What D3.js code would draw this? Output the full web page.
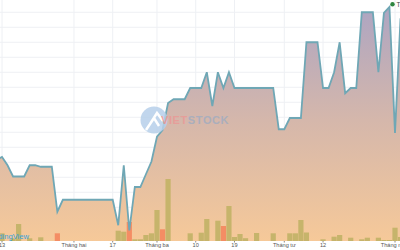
<!DOCTYPE html>
<html>
<head>
<meta charset="utf-8">
<script src="https://cdn.jsdelivr.net/npm/d3@7"></script>
<style>
  body { margin: 0; background: #fff; }
  svg { display: block; font-family: "Liberation Sans", Arial, sans-serif; }
</style>
</head>
<body>
<svg id="vis" width="400" height="250"></svg>
<script>
// daily closes (thousand VND), one per trading session, starting one session before "13"
const prices = [
  10.63, 10.67, 10.56, 10.41, 10.41, 10.41, 10.56, 10.56, 10.54, 10.54, 10.54, 9.94,
  10.10, 10.10, 10.10, 10.10, 10.10, 10.10, 10.10, 10.10, 10.10, 10.10,
  9.76, 10.56, 9.69, 10.27, 10.27, 10.44, 10.61, 10.94, 11.03, 11.39, 11.44, 11.44,
  11.44, 11.59, 11.59, 11.59, 11.80, 11.35, 11.80, 11.59, 11.80,
  11.59, 11.59, 11.59, 11.59, 11.59, 11.59, 11.59, 11.59,
  11.04, 11.04, 11.19, 11.19, 11.19, 12.20, 12.20, 12.20, 11.59, 11.59, 11.80, 12.20,
  11.52, 11.59, 11.59, 12.60, 12.60, 12.60, 11.80, 12.59, 12.67, 10.99, 12.52
];

// matched volume per session (shares)
const volumes = [
  40000, 77000, 0, 27000, 170000, 0, 27000, 0, 37000, 0, 0, 77000,
  0, 0, 0, 0, 0, 0, 0, 0, 0, 0,
  103000, 93000, 190000, 17000, 17000, 60000, 77000, 310000, 117000, 620000, 0, 0,
  0, 77000, 0, 83000, 220000, 0, 203000, 150000, 350000,
  40000, 70000, 28000, 0, 80000, 0, 0, 77000,
  0, 0, 77000, 77000, 210000, 85000, 0, 0, 17000, 0, 43000, 60000,
  0, 33000, 0, 17000, 33000, 0, 33000, 10000, 10000, 133000, 40000
];

// sessions whose volume bar is red
const downSessions = [11, 24, 30, 41];

const tickIndex = [1, 14, 21, 29, 36, 43, 52, 59, 72];
const tickLabels = ["13", "Tháng hai", "17", "Tháng ba", "10", "19", "Tháng tư", "12", "Tháng năm"];

function drawChart() {
  const width = 400;
  const baseY = 241;

  const svg = d3.select("svg#vis");

  const x = d3.scaleLinear().domain([1, 72]).range([2, 395]);
  const y = d3.scaleLinear().domain([9.55, 9.55 + baseY / 75]).range([baseY, 0]);
  const vol = d3.scaleLinear().domain([0, 1000000]).range([0, 100]);

  // gradient for the area
  const defs = svg.append("defs");
  const grad = defs.append("linearGradient")
    .attr("id", "areaFill")
    .attr("gradientUnits", "userSpaceOnUse")
    .attr("x1", 0).attr("y1", 0)
    .attr("x2", 0).attr("y2", baseY);
  grad.append("stop").attr("offset", "0%").attr("stop-color", "#aba4c3");
  grad.append("stop").attr("offset", "50%").attr("stop-color", "#d5b7ab");
  grad.append("stop").attr("offset", "100%").attr("stop-color", "#f6c999");

  // grid
  const grid = svg.append("g").attr("id", "grid");
  grid.selectAll("line.h")
    .data(d3.range(9.6, 12.65, 0.2))
    .enter().append("line")
    .attr("class", "h")
    .attr("x1", 0).attr("x2", width)
    .attr("y1", d => y(d)).attr("y2", d => y(d))
    .attr("stroke", "#eef0f4")
    .attr("stroke-width", 1);
  grid.selectAll("line.v")
    .data(tickIndex)
    .enter().append("line")
    .attr("class", "v")
    .attr("x1", d => x(d)).attr("x2", d => x(d))
    .attr("y1", 0).attr("y2", baseY)
    .attr("stroke", "#eef0f4")
    .attr("stroke-width", 1);

  // area + line
  const area = d3.area()
    .x((d, i) => x(i))
    .y0(baseY)
    .y1(d => y(d));
  const line = d3.line()
    .x((d, i) => x(i))
    .y(d => y(d));

  svg.append("path")
    .datum(prices)
    .attr("d", area)
    .attr("fill", "url(#areaFill)");

  // volume bars
  svg.append("g").attr("id", "volume")
    .selectAll("rect")
    .data(volumes)
    .enter().append("rect")
    .attr("x", (d, i) => x(i) - 2.6)
    .attr("width", 5.2)
    .attr("y", d => baseY - vol(d))
    .attr("height", d => vol(d))
    .attr("fill", (d, i) => downSessions.includes(i) ? "#f48d64" : "#c6b46b");

  svg.append("path")
    .datum(prices)
    .attr("d", line)
    .attr("fill", "none")
    .attr("stroke", "#6fa7b5")
    .attr("stroke-width", 1.8)
    .attr("stroke-linejoin", "miter");

  // watermark
  const wm = svg.append("g").attr("id", "watermark").attr("opacity", 0.85);
  wm.append("circle")
    .attr("cx", 154).attr("cy", 120).attr("r", 13.5)
    .attr("fill", "#b7d0ea");
  wm.append("path")
    .attr("d", "M146,130 L154,118 L159,126 M150,124 L157,113 L163,121")
    .attr("fill", "none")
    .attr("stroke", "#fff")
    .attr("stroke-width", 2.5);
  const wmText = wm.append("text")
    .attr("x", 161).attr("y", 123.5)
    .attr("font-size", 11)
    .attr("font-weight", "bold")
    .attr("letter-spacing", 0.6);
  wmText.append("tspan").attr("fill", "#e99a98").text("VIET");
  wmText.append("tspan").attr("fill", "#a3adc0").text("STOCK");

  // tradingview logo text
  svg.append("text")
    .attr("x", 29).attr("y", 239)
    .attr("text-anchor", "end")
    .attr("font-size", 7.6)
    .attr("fill", "#3aa3dd")
    .text("TradingView");

  // x axis labels
  const axis = svg.append("g").attr("id", "x-axis");
  axis.append("rect")
    .attr("x", 0).attr("y", baseY)
    .attr("width", width).attr("height", 250 - baseY)
    .attr("fill", "#fff");
  axis.selectAll("line")
    .data(tickIndex)
    .enter().append("line")
    .attr("x1", d => x(d)).attr("x2", d => x(d))
    .attr("y1", baseY).attr("y2", baseY + 1.5)
    .attr("stroke", "#888");
  axis.selectAll("text")
    .data(tickIndex)
    .enter().append("text")
    .attr("x", d => x(d))
    .attr("y", 246.8)
    .attr("text-anchor", "middle")
    .attr("font-size", 5.6)
    .attr("fill", "#555")
    .text((d, i) => tickLabels[i]);

  // legend
  svg.append("circle")
    .attr("cx", 392.5).attr("cy", 4.2).attr("r", 2.2)
    .attr("fill", "#2e8540");
  svg.append("text")
    .attr("x", 396.5).attr("y", 6.6)
    .attr("font-size", 6.5)
    .attr("fill", "#444")
    .text("T");
}

drawChart();
</script>
</body>
</html>
